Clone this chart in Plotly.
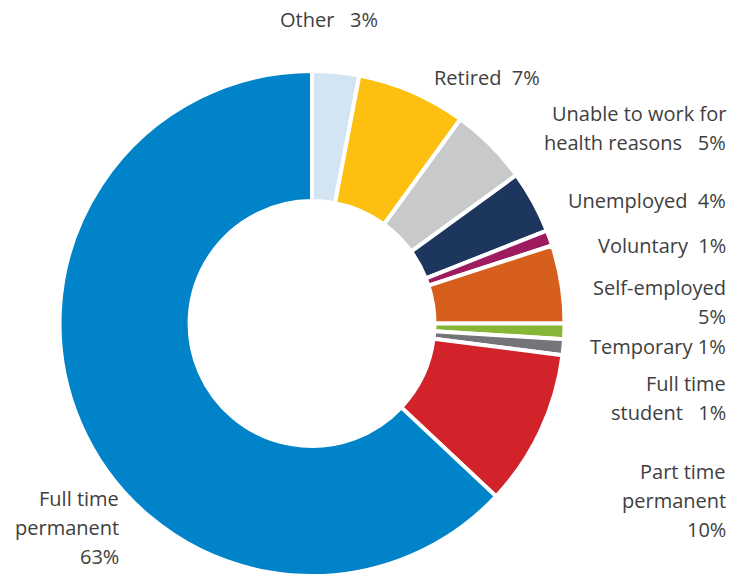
import plotly.graph_objects as go

# ---- data ----
categories = ["Other", "Retired", "Unable to work for health reasons", "Unemployed",
              "Voluntary", "Self-employed", "Temporary", "Full time student",
              "Part time permanent", "Full time permanent"]
values = [3, 7, 5, 4, 1, 5, 1, 1, 10, 63]
colors = ["#D3E4F3", "#FDC010", "#C8C9CB", "#1C365E", "#9E1B60", "#D65F1D",
          "#87B535", "#747579", "#D2232A", "#0083C8"]
# label templates ({p} = percentage)
label_fmt = ["Other\u00a0\u00a0\u00a0{p}",
             "Retired\u00a0\u00a0{p}",
             "Unable to work for|health reasons\u00a0\u00a0\u00a0{p}",
             "Unemployed\u00a0\u00a0{p}",
             "Voluntary\u00a0\u00a0{p}",
             "Self-employed|{p}",
             "Temporary {p}",
             "Full time|student\u00a0\u00a0\u00a0{p}",
             "Part time|permanent|{p}",
             "Full time|permanent|{p}"]

# ---- label placement (pixels: anchor x, first-line y, anchor side) ----
label_pos = [(329, 20, "center"), (487, 77, "center"), (728, 114, "right"),
             (728, 200, "right"), (728, 246, "right"), (728, 287, "right"),
             (728, 346, "right"), (728, 383, "right"), (728, 471, "right"),
             (121, 498, "right")]
W, H = 747, 576
LINE = 29

fig = go.Figure(go.Pie(
    labels=categories, values=values, sort=False, direction="clockwise",
    rotation=0, hole=0.485, textinfo="none", hoverinfo="label+percent",
    marker=dict(colors=colors, line=dict(color="white", width=4)),
    domain=dict(x=[0.0797, 0.7557], y=[0, 0.8767]),
    showlegend=False,
))

anns = []
for fmt, v, (px, py, side) in zip(label_fmt, values, label_pos):
    lines = fmt.format(p=f"{v}%").split("|")
    for i, ln in enumerate(lines):
        anns.append(dict(
            text=ln, xref="paper", yref="paper",
            x=px / W, y=1 - (py + i * LINE) / H,
            xanchor=side, yanchor="middle", showarrow=False,
            font=dict(family="Open Sans", size=20, color="#404040"),
        ))

fig.update_layout(
    width=W, height=H, margin=dict(l=0, r=0, t=0, b=0),
    paper_bgcolor="white", plot_bgcolor="white",
    annotations=anns,
)
fig.write_html("out.html")
